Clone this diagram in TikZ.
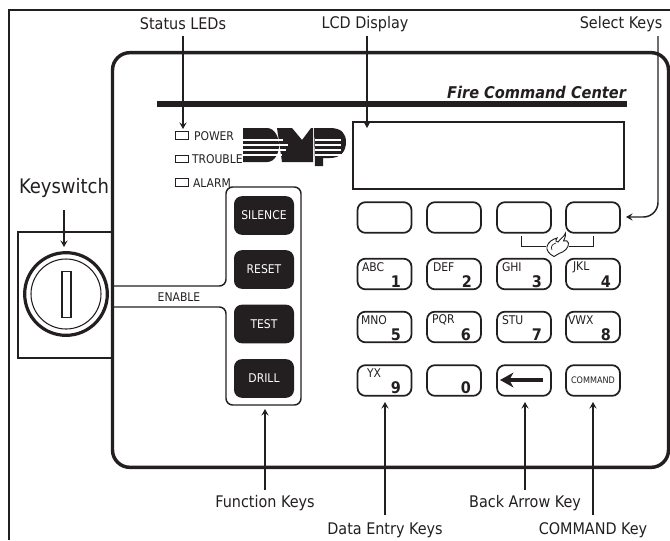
\documentclass[tikz,border=0pt]{standalone}
\usepackage{fontspec}
\setmainfont{DejaVu Sans Condensed}[BoldFont={DejaVu Sans Condensed Bold},ItalicFont={DejaVu Sans Condensed Oblique},BoldItalicFont={DejaVu Sans Condensed Bold Oblique}]
\usetikzlibrary{arrows.meta}
\definecolor{ink}{HTML}{231F20}
\newcommand{\pxfont}[1]{\fontsize{\dimexpr #1pt*3/4\relax}{\dimexpr #1pt\relax}\selectfont}
\tikzset{
  every node/.style={inner sep=0pt,outer sep=0pt,text=ink},
  calltext/.style={font=\pxfont{16}},
  callout/.style={draw=ink,line width=1.1pt,-{Stealth[length=5pt,width=5.5pt,inset=2pt]}},
  padkey/.style={draw=ink,line width=1.3pt,rounded corners=6pt,minimum width=40.5pt,minimum height=23pt},
  fnkey/.style={fill=ink,rounded corners=6pt,minimum width=45pt,minimum height=29pt,text=white,font=\pxfont{12}},
  small/.style={font=\pxfont{12}},
  letters/.style={anchor=west,font=\pxfont{12}},
  digit/.style={anchor=east,font=\pxfont{16}\bfseries},
  led/.style={draw=ink,line width=0.7pt,minimum width=9.75pt,minimum height=5.5pt},
}
\begin{document}
\begin{tikzpicture}[x=0.75pt,y=-0.75pt]
\useasboundingbox (0,0) rectangle (670,540);
% outer frame
\draw[ink,line width=1.2pt] (9,540) -- (9,10) -- (670,10);
% keyswitch box
\node[draw=ink,line width=0.9pt,minimum width=71.25pt,minimum height=94.5pt] (kbox) at (65.5,295) {};
% panel
\node[draw=ink,line width=2.6pt,rounded corners=13pt,minimum width=417pt,minimum height=311pt] (panel) at (390.5,260) {};
% rule and title
\coordinate (ruleL) at (157,104); \coordinate (ruleR) at (627,104);
\draw[ink,line width=4.5pt] (ruleL) -- (ruleR);
\node[anchor=base east,font=\pxfont{16.2}\bfseries\itshape] (title) at (626,98) {Fire Command Center};
% LCD
\node[draw=ink,line width=1.3pt,minimum width=203pt,minimum height=50pt] (lcd) at (488.5,155.5) {};
% LEDs
\node[led] (ledA) at (181.5,135.5) {};
\node[led] (ledB) at (181.5,159) {};
\node[led] (ledC) at (181.5,182.5) {};
\node[small,anchor=west] (ledAt) at (194,136) {POWER};
\node[small,anchor=west] (ledBt) at (192,159.5) {TROUBLE};
\node[small,anchor=west] (ledCt) at (193,183) {ALARM};
% logo
\fill[ink] (243,128) -- (267,128) .. controls (275,128) and (279,138) .. (279,145) .. controls (279,153) and (275,162) .. (267,162) -- (243,162) -- cycle;
\fill[ink] (277,128) -- (292,128) -- (302,140) -- (311,128) -- (313,128) -- (313,162) -- (282,162) -- cycle;
\fill[ink] (314,128) -- (330,128) .. controls (342,128) and (346,134) .. (346,142) .. controls (346,152) and (340,158) .. (330,158) -- (323,158) -- (323,166) -- (315,166) -- cycle;
\foreach \yy/\xe in {140/283,145/288,150/286,155/282}{
  \draw[white,line width=0.9pt] (243,\yy) -- (\xe,\yy);
  \draw[white,line width=0.9pt] (315,\yy) -- (341,\yy);
}
% enable lines and function key tray
\coordinate (enA) at (kbox.east |- 0,286);
\coordinate (enB) at (kbox.east |- 0,307);
\draw[ink,line width=1.1pt,rounded corners=5pt] (enA) -- (226,286) -- (226,187) -- (301,187) -- (301,405) -- (226,405) -- (226,307) -- (enB);
\node[small] (enable) at (179,297) {ENABLE};
\node[fnkey] (silence) at (264,215.5) {SILENCE};
\node[fnkey] (reset) at (264,269.5) {RESET};
\node[fnkey] (test) at (264,324) {TEST};
\node[fnkey] (drill) at (264,378.5) {DRILL};
% keyswitch
\node[circle,draw=ink,line width=2.4pt,minimum size=62pt] (lockO) at (66,294) {};
\node[circle,draw=ink,line width=0.8pt,minimum size=52.5pt] (lockI) at (66,294) {};
\node[draw=ink,line width=0.9pt,minimum width=6.75pt,minimum height=35pt] (slot) at (66.5,294.5) {};
% select keys
\node[padkey] (s1) at (384.5,217.5) {};
\node[padkey] (s2) at (454,217.5) {};
\node[padkey] (s3) at (524,217.5) {};
\node[padkey] (s4) at (593,217.5) {};
% flame bracket
\coordinate (brA) at (521,236); \coordinate (brB) at (593,236);
\draw[ink,line width=0.7pt] (brA) -- (521,246) -- (546,246);
\draw[ink,line width=0.7pt] (brB) -- (593,246) -- (569,246);
\draw[ink,line width=0.7pt,fill=white] (554,256.5) .. controls (549,254) and (546,250) .. (547,246.5) .. controls (548,242) and (553,239) .. (557,238) .. controls (555,241) and (556,242) .. (558,242) .. controls (560,239) and (564,237) .. (565.5,233) .. controls (566,237) and (564,239) .. (563.5,241) .. controls (566,240) and (568,241) .. (568.5,243) .. controls (569,248) and (564,252) .. (559,253.5) .. controls (557,254.5) and (556,255) .. (554,256.5) -- cycle;
\draw[ink,line width=0.5pt] (552,250) .. controls (550,246) and (553,244) .. (556,243);
% keypad row 2
\node[padkey] (k1) at (384.5,274) {}; \node[letters] (k1a) at (362,267) {ABC}; \node[digit] (k1b) at (401,281.5) {1};
\node[padkey] (k2) at (454,274) {}; \node[letters] (k2a) at (433,267) {DEF}; \node[digit] (k2b) at (472,281.5) {2};
\node[padkey] (k3) at (524,274) {}; \node[letters] (k3a) at (502,267) {GHI}; \node[digit] (k3b) at (542,281.5) {3};
\node[padkey] (k4) at (593,274) {}; \node[letters] (k4a) at (573,267) {JKL}; \node[digit] (k4b) at (611,281.5) {4};
% keypad row 3
\node[padkey] (k5) at (384.5,327) {}; \node[letters] (k5a) at (361,320) {MNO}; \node[digit] (k5b) at (401,335) {5};
\node[padkey] (k6) at (454,327) {}; \node[letters] (k6a) at (432,320) {PQR}; \node[digit] (k6b) at (471,335) {6};
\node[padkey] (k7) at (524,327) {}; \node[letters] (k7a) at (502,320) {STU}; \node[digit] (k7b) at (542,335) {7};
\node[padkey] (k8) at (593,327) {}; \node[letters] (k8a) at (568,320) {VWX}; \node[digit] (k8b) at (611,335) {8};
% keypad row 4
\node[padkey] (k9) at (384.5,380.5) {}; \node[letters] (k9a) at (367,373) {YX}; \node[digit] (k9b) at (401,388) {9};
\node[padkey] (k0) at (454,380.5) {}; \node[digit] (k0b) at (471,388) {0};
\node[padkey] (kback) at (524,380.5) {};
\coordinate (backR) at (543,380); \coordinate (backL) at (500,380);
\draw[ink,line width=3pt,-{Stealth[length=10pt,width=11pt,inset=3pt]}] (backR) -- (backL);
\node[padkey,font=\pxfont{9}] (kcmd) at (593,380.5) {COMMAND};
% callouts
\node[calltext] (lblStatus) at (183,24) {Status LEDs};
\node[calltext] (lblLcd) at (365,24) {LCD Display};
\node[calltext] (lblSel) at (621,24) {Select Keys};
\node[calltext,font=\pxfont{20}] (lblKey) at (64,188) {Keyswitch};
\node[calltext] (lblFn) at (265,503) {Function Keys};
\node[calltext] (lblData) at (385,530) {Data Entry Keys};
\node[calltext] (lblBack) at (525,503) {Back Arrow Key};
\node[calltext] (lblCmd) at (593,530) {COMMAND Key};
\coordinate (tipStatus) at (183,129);
\coordinate (tipLcd) at (367,128);
\coordinate (tipKey) at (64,247);
\coordinate (startStatus) at (183,36);
\coordinate (startLcd) at (367,36);
\coordinate (startSel) at (658,36);
\coordinate (startKey) at (64,210);
\coordinate (tipSel) at (626,217);
\coordinate (tipFn) at (265,409);
\coordinate (tipData) at (385,402);
\coordinate (tipBack) at (525,402);
\coordinate (tipCmd) at (593,402);
\draw[callout] (startStatus) -- (tipStatus);
\draw[callout] (startLcd) -- (tipLcd);
\draw[callout,rounded corners=11pt] (startSel) -- (658,217) -- (tipSel);
\draw[callout] (startKey) -- (tipKey);
\draw[callout] (lblFn.north |- 0,490) -- (tipFn);
\draw[callout] (lblData.north |- 0,515) -- (tipData);
\draw[callout] (lblBack.north |- 0,490) -- (tipBack);
\draw[callout] (lblCmd.north |- 0,515) -- (tipCmd);
\end{tikzpicture}
\end{document}
